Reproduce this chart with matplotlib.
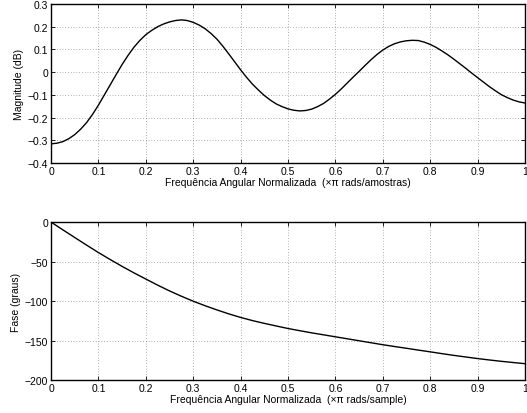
import matplotlib
matplotlib.use("Agg")
import matplotlib.pyplot as plt

plt.rcParams["font.family"] = ["Liberation Sans", "DejaVu Sans"]

# frequency grid (x pi rad/sample) for the magnitude curve
freq_mag = [i * 0.0125 for i in range(81)]
magnitude_db = [
    -0.316, -0.313, -0.306, -0.293, -0.275, -0.251, -0.222, -0.186,
    -0.145, -0.100, -0.055, -0.010, 0.034, 0.074, 0.110, 0.140,
    0.165, 0.184, 0.200, 0.212, 0.221, 0.227, 0.230,
    0.227, 0.219, 0.207, 0.191, 0.170, 0.145, 0.114, 0.080, 0.045,
    0.010, -0.023, -0.053, -0.079, -0.103, -0.123, -0.140, -0.152,
    -0.162, -0.168, -0.171,
    -0.169, -0.163, -0.152, -0.138, -0.119, -0.098, -0.074, -0.048,
    -0.022, 0.003, 0.029, 0.054, 0.077, 0.097, 0.113, 0.125, 0.133,
    0.138, 0.140,
    0.139, 0.132, 0.122, 0.109, 0.093, 0.076, 0.057, 0.037, 0.017,
    -0.004, -0.024, -0.044, -0.064, -0.082, -0.099, -0.112, -0.123,
    -0.131, -0.136,
]

# frequency grid for the phase curve
freq_phase = [i * 0.025 for i in range(41)]
phase_deg = [
    0, -9.8, -19.5, -29.1, -38.5, -47.4, -56, -64.2, -72, -79.7,
    -87, -93.7, -100, -105.7, -111, -116, -120.5, -124.5, -128, -131.3,
    -134.5, -137.3, -140, -142.5, -145, -147.5, -150, -152.5, -155, -157.3,
    -159.5, -161.8, -164, -166.3, -168.5, -170.5, -172.5, -174.3, -176, -177.5,
    -179,
]

fig = plt.figure(figsize=(5.27, 4.14), dpi=100)
ax1 = fig.add_axes([0.097, 0.604, 0.899, 0.384])
ax2 = fig.add_axes([0.097, 0.079, 0.899, 0.382])

xticks = [0, 0.1, 0.2, 0.3, 0.4, 0.5, 0.6, 0.7, 0.8, 0.9, 1]
xlabels = ["0", "0.1", "0.2", "0.3", "0.4", "0.5", "0.6", "0.7", "0.8", "0.9", "1"]

ax1.plot(freq_mag, magnitude_db, color="black", lw=1.0, solid_joinstyle="round")
ax1.set_ylim(-0.4, 0.3)
ax1.set_yticks([-0.4, -0.3, -0.2, -0.1, 0, 0.1, 0.2, 0.3])
ax1.set_yticklabels(["\u22120.4", "\u22120.3", "\u22120.2", "\u22120.1", "0", "0.1", "0.2", "0.3"])
ax1.set_ylabel("Magnitude (dB)", fontsize=7.5, labelpad=3)
ax1.set_xlabel("Frequência Angular Normalizada  (\u00d7\u03c0 rads/amostras)", fontsize=7.5, labelpad=1)

ax2.plot(freq_phase, phase_deg, color="black", lw=1.0, solid_joinstyle="round")
ax2.set_ylim(-200, 0)
ax2.set_yticks([-200, -150, -100, -50, 0])
ax2.set_yticklabels(["\u2212200", "\u2212150", "\u2212100", "\u221250", "0"])
ax2.set_ylabel("Fase (graus)", fontsize=7.5, labelpad=3)
ax2.set_xlabel("Frequência Angular Normalizada  (\u00d7\u03c0 rads/sample)", fontsize=7.5, labelpad=1)

for ax in (ax1, ax2):
    ax.set_xlim(0, 1)
    ax.set_xticks(xticks)
    ax.set_xticklabels(xlabels)
    ax.tick_params(direction="in", length=3, width=0.6, labelsize=7.5,
                   top=True, right=True, pad=2)
    ax.grid(True, linestyle=(0, (1, 3)), color="black", lw=0.5, alpha=0.6)
    for sp in ax.spines.values():
        sp.set_linewidth(1.0)

fig.savefig("out.png", dpi=100)
